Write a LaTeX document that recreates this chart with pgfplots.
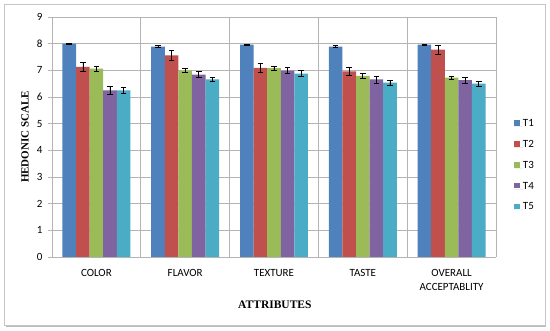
\documentclass[border=0pt]{standalone}
\usepackage{pgfplots}
\usepackage{pgfplotstable}
\pgfplotsset{compat=1.18}
\usepackage{fontspec}
\setmainfont{Carlito}
\newfontfamily\timesfont{Liberation Serif}
\definecolor{cA}{HTML}{4F81BD}
\definecolor{cB}{HTML}{C0504D}
\definecolor{cC}{HTML}{9BBB59}
\definecolor{cD}{HTML}{8064A2}
\definecolor{cE}{HTML}{4BACC6}
\definecolor{gridc}{HTML}{B4B4B4}
\pgfplotsset{sqlegend/.style={legend image code/.code={\fill[##1] (0pt,0.7pt) rectangle (5.6pt,6.3pt);\path (0pt,0pt) -- (8.8pt,0pt);}}}

\pgfplotstableread{
x y e
0 8.00 0.02
1 7.89 0.04
2 7.96 0.02
3 7.89 0.03
4 7.96 0.02
}\tA
\pgfplotstableread{
x y e
0 7.13 0.16
1 7.56 0.19
2 7.09 0.18
3 6.96 0.16
4 7.78 0.17
}\tB
\pgfplotstableread{
x y e
0 7.06 0.08
1 6.99 0.07
2 7.08 0.07
3 6.79 0.08
4 6.73 0.06
}\tC
\pgfplotstableread{
x y e
0 6.25 0.15
1 6.84 0.12
2 6.99 0.12
3 6.66 0.13
4 6.63 0.12
}\tD
\pgfplotstableread{
x y e
0 6.25 0.11
1 6.66 0.08
2 6.88 0.12
3 6.54 0.10
4 6.50 0.10
}\tE

\begin{document}
\begin{tikzpicture}[x=1pt,y=1pt]
\useasboundingbox (0,0) rectangle (550,331);
\fill[white] (0,0) rectangle (550,331);
\draw[gray!55, line width=1.6pt] (6,5.2) -- (545.6,5.2) -- (545.6,325);
\draw[gray!45, line width=0.8pt] (4,6) rectangle (545,327);
\begin{axis}[
  at={(52pt,74pt)}, anchor=south west,
  scale only axis, width=444pt, height=240pt,
  ymin=0, ymax=9, ytick={0,1,...,9},
  xmin=-0.5, xmax=4.5,
  xtick={0,1,2,3,4},
  xticklabels={COLOR,FLAVOR,TEXTURE,TASTE,{OVERALL\\ACCEPTABLITY}},
  xticklabel style={align=center, font=\fontsize{11}{14}\selectfont, yshift=-5pt},
  yticklabel style={font=\fontsize{11}{13}\selectfont, xshift=-2pt},
  /pgf/number format/assume math mode=true,
  major x tick style={draw=none},
  extra x ticks={-0.5,0.5,1.5,2.5,3.5,4.5},
  extra x tick labels={},
  extra x tick style={grid=major, major grid style={gridc, line width=0.6pt}, major tick style={draw=gridc, line width=0.6pt}, tick align=outside, major tick length=4pt},
  ymajorgrids, major grid style={gridc, line width=0.6pt},
  tick align=outside, major tick length=4pt,
  major y tick style={gridc, line width=0.6pt},
  axis x line*=bottom, axis y line*=left,
  axis line style={gridc, line width=0.6pt, -},
  ybar=0pt, bar width=0.153,
  xlabel={\timesfont\bfseries ATTRIBUTES},
  xlabel style={at={(axis description cs:0.502,-0.198)}, anchor=center, font=\fontsize{11.5}{13}\selectfont},
  ylabel={\timesfont\bfseries HEDONIC SCALE},
  ylabel style={at={(axis description cs:-0.061,0.5)}, anchor=center, rotate=0, font=\fontsize{11}{13}\selectfont},
  legend style={at={(1.0405,0.577)}, anchor=north west, draw=none, fill=none, inner sep=0pt,
    font=\fontsize{11}{13}\selectfont, row sep=12.8pt,
    nodes={inner sep=0pt, text height=8pt, text depth=0pt, anchor=base west}},
  legend cell align=left,
  error bars/y dir=both, error bars/y explicit,
  error bars/error bar style={black, line width=0.6pt},
  error bars/error mark options={rotate=90, mark size=2.8pt, black, line width=0.6pt},
]
\addplot[fill=cA, draw=none, sqlegend] table[x=x, y=y, y error=e] {\tA};
\addplot[fill=cB, draw=none, sqlegend] table[x=x, y=y, y error=e] {\tB};
\addplot[fill=cC, draw=none, sqlegend] table[x=x, y=y, y error=e] {\tC};
\addplot[fill=cD, draw=none, sqlegend] table[x=x, y=y, y error=e] {\tD};
\addplot[fill=cE, draw=none, sqlegend] table[x=x, y=y, y error=e] {\tE};
\legend{T1,T2,T3,T4,T5}
\end{axis}
\end{tikzpicture}
\end{document}
